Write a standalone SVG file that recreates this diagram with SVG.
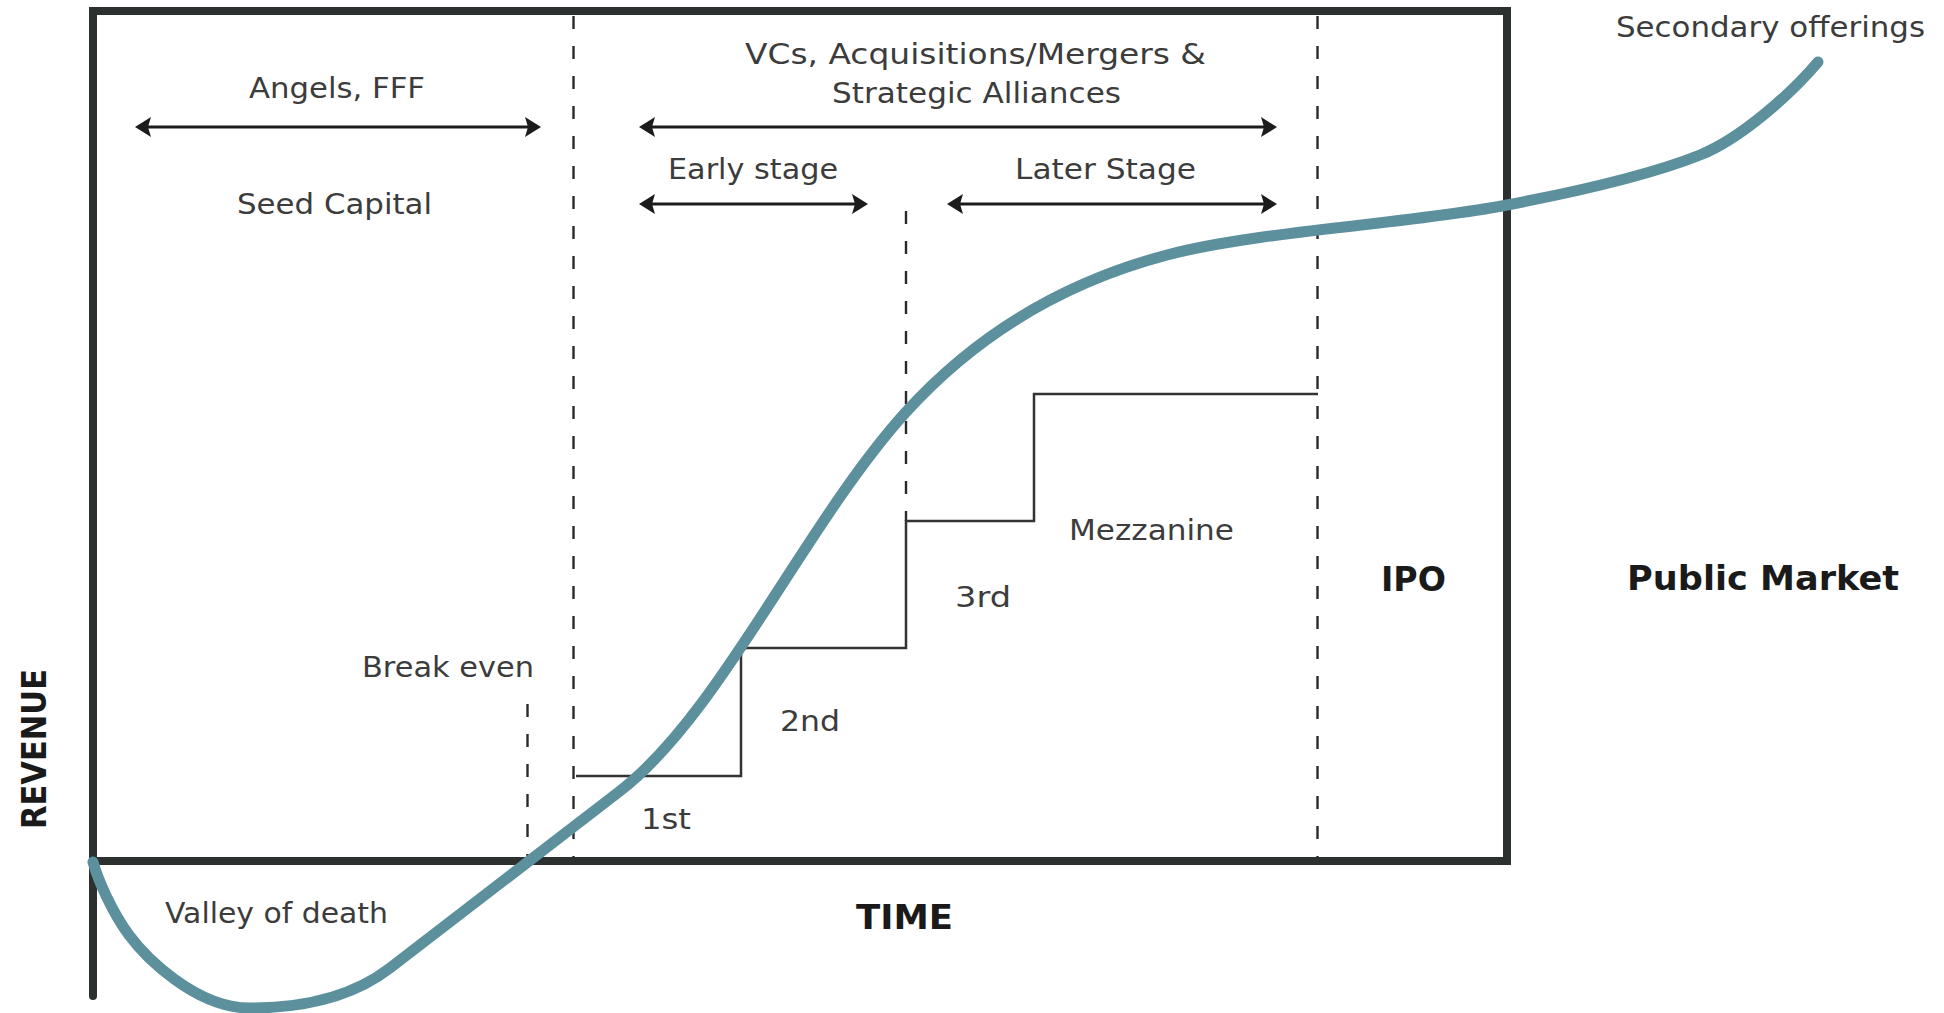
<svg xmlns="http://www.w3.org/2000/svg" width="1944" height="1013" viewBox="0 0 1944 1013">
  <style>
    .frame { fill: none; stroke: #2c302e; stroke-width: 8; stroke-linecap: square; }
    .axis { fill: none; stroke: #2c302e; stroke-width: 8; stroke-linecap: round; }
    .dash { fill: none; stroke: #2a2a2a; stroke-width: 2.4; stroke-dasharray: 13 17; }
    .step { fill: none; stroke: #333; stroke-width: 2.5; }
    .span { fill: none; stroke: #1c1c1c; stroke-width: 3; marker-start: url(#head); marker-end: url(#head); }
    .curve { fill: none; stroke: #5b909c; stroke-width: 11; stroke-linecap: round; stroke-linejoin: round; }
    .lbl { font-family: "DejaVu Sans", "Liberation Sans", sans-serif; font-size: 28px; fill: #3c3c3c; }
    .big { font-family: "DejaVu Sans", "Liberation Sans", sans-serif; font-size: 33px; font-weight: bold; fill: #1a1a1a; }
  </style>
  <defs>
    <marker id="head" viewBox="0 0 16 20" refX="8" refY="10" markerWidth="16" markerHeight="20" markerUnits="userSpaceOnUse" orient="auto-start-reverse">
      <path d="M16,10 L0,0 L3,10 L0,20 Z" fill="#1c1c1c"/>
    </marker>
  </defs>

  <rect width="1944" height="1013" fill="#ffffff"/>

  <!-- chart frame and revenue axis -->
  <g id="frame">
    <rect class="frame" x="93" y="11" width="1414" height="850"/>
    <line class="axis" x1="93" y1="11" x2="93" y2="996"/>
  </g>

  <g id="connectors">
    <!-- stage dividers -->
    <line class="dash" x1="573.5" y1="16" x2="573.5" y2="857"/>
    <line class="dash" x1="1317.5" y1="16" x2="1317.5" y2="857"/>
    <line class="dash" x1="906" y1="211" x2="906" y2="521"/>
    <line class="dash" x1="527.5" y1="704" x2="527.5" y2="857"/>

    <!-- funding rounds staircase -->
    <polyline class="step" points="576,776 741,776 741,648 906,648 906,521 1034,521 1034,394 1318,394"/>

    <!-- financing spans -->
    <line class="span" x1="143" y1="127" x2="533" y2="127"/>
    <line class="span" x1="647" y1="127" x2="1269" y2="127"/>
    <line class="span" x1="647" y1="204" x2="860" y2="204"/>
    <line class="span" x1="955" y1="204" x2="1269" y2="204"/>

    <!-- revenue curve: valley, break-even climb, growth, plateau, secondary offerings -->
    <path class="curve" d="M93,862 C98,880 112,912 129,935 C144.5,956 195,1008 250,1008 C310,1008 355,995 390,968 L620,791 C720,714 806,522 906,412 C986,324 1080,278 1167,255 C1257,231 1417,223 1507,205 C1570,193 1650,175 1700,155 C1740,139 1790,95 1818,62"/>
  </g>

  <g id="angels"><text class="lbl" x="249" y="98" textLength="176" lengthAdjust="spacingAndGlyphs">Angels, FFF</text></g>
  <g id="seed-capital"><text class="lbl" x="237" y="214" textLength="195" lengthAdjust="spacingAndGlyphs">Seed Capital</text></g>
  <g id="vcs">
    <text class="lbl" x="745" y="64" textLength="461" lengthAdjust="spacingAndGlyphs">VCs, Acquisitions/Mergers &amp;</text>
    <text class="lbl" x="832" y="103" textLength="289" lengthAdjust="spacingAndGlyphs">Strategic Alliances</text>
  </g>
  <g id="early-stage"><text class="lbl" x="668" y="179" textLength="170" lengthAdjust="spacingAndGlyphs">Early stage</text></g>
  <g id="later-stage"><text class="lbl" x="1015" y="179" textLength="181" lengthAdjust="spacingAndGlyphs">Later Stage</text></g>
  <g id="secondary-offerings"><text class="lbl" x="1616" y="37" textLength="309" lengthAdjust="spacingAndGlyphs">Secondary offerings</text></g>
  <g id="break-even"><text class="lbl" x="362" y="677" textLength="172" lengthAdjust="spacingAndGlyphs">Break even</text></g>
  <g id="valley-of-death"><text class="lbl" x="165" y="923" textLength="223" lengthAdjust="spacingAndGlyphs">Valley of death</text></g>
  <g id="round-1st"><text class="lbl" x="641" y="829" textLength="50" lengthAdjust="spacingAndGlyphs">1st</text></g>
  <g id="round-2nd"><text class="lbl" x="780" y="731" textLength="60" lengthAdjust="spacingAndGlyphs">2nd</text></g>
  <g id="round-3rd"><text class="lbl" x="955" y="607" textLength="56" lengthAdjust="spacingAndGlyphs">3rd</text></g>
  <g id="mezzanine"><text class="lbl" x="1069" y="540" textLength="165" lengthAdjust="spacingAndGlyphs">Mezzanine</text></g>
  <g id="ipo"><text class="big" x="1381" y="591" textLength="65" lengthAdjust="spacingAndGlyphs">IPO</text></g>
  <g id="public-market"><text class="big" x="1627" y="590" textLength="272" lengthAdjust="spacingAndGlyphs">Public Market</text></g>
  <g id="time"><text class="big" x="856" y="929" font-size="32" textLength="97" lengthAdjust="spacingAndGlyphs">TIME</text></g>
  <g id="revenue"><text class="big" transform="translate(46,749) rotate(-90)" text-anchor="middle" font-size="35" textLength="160" lengthAdjust="spacingAndGlyphs">REVENUE</text></g>
</svg>
